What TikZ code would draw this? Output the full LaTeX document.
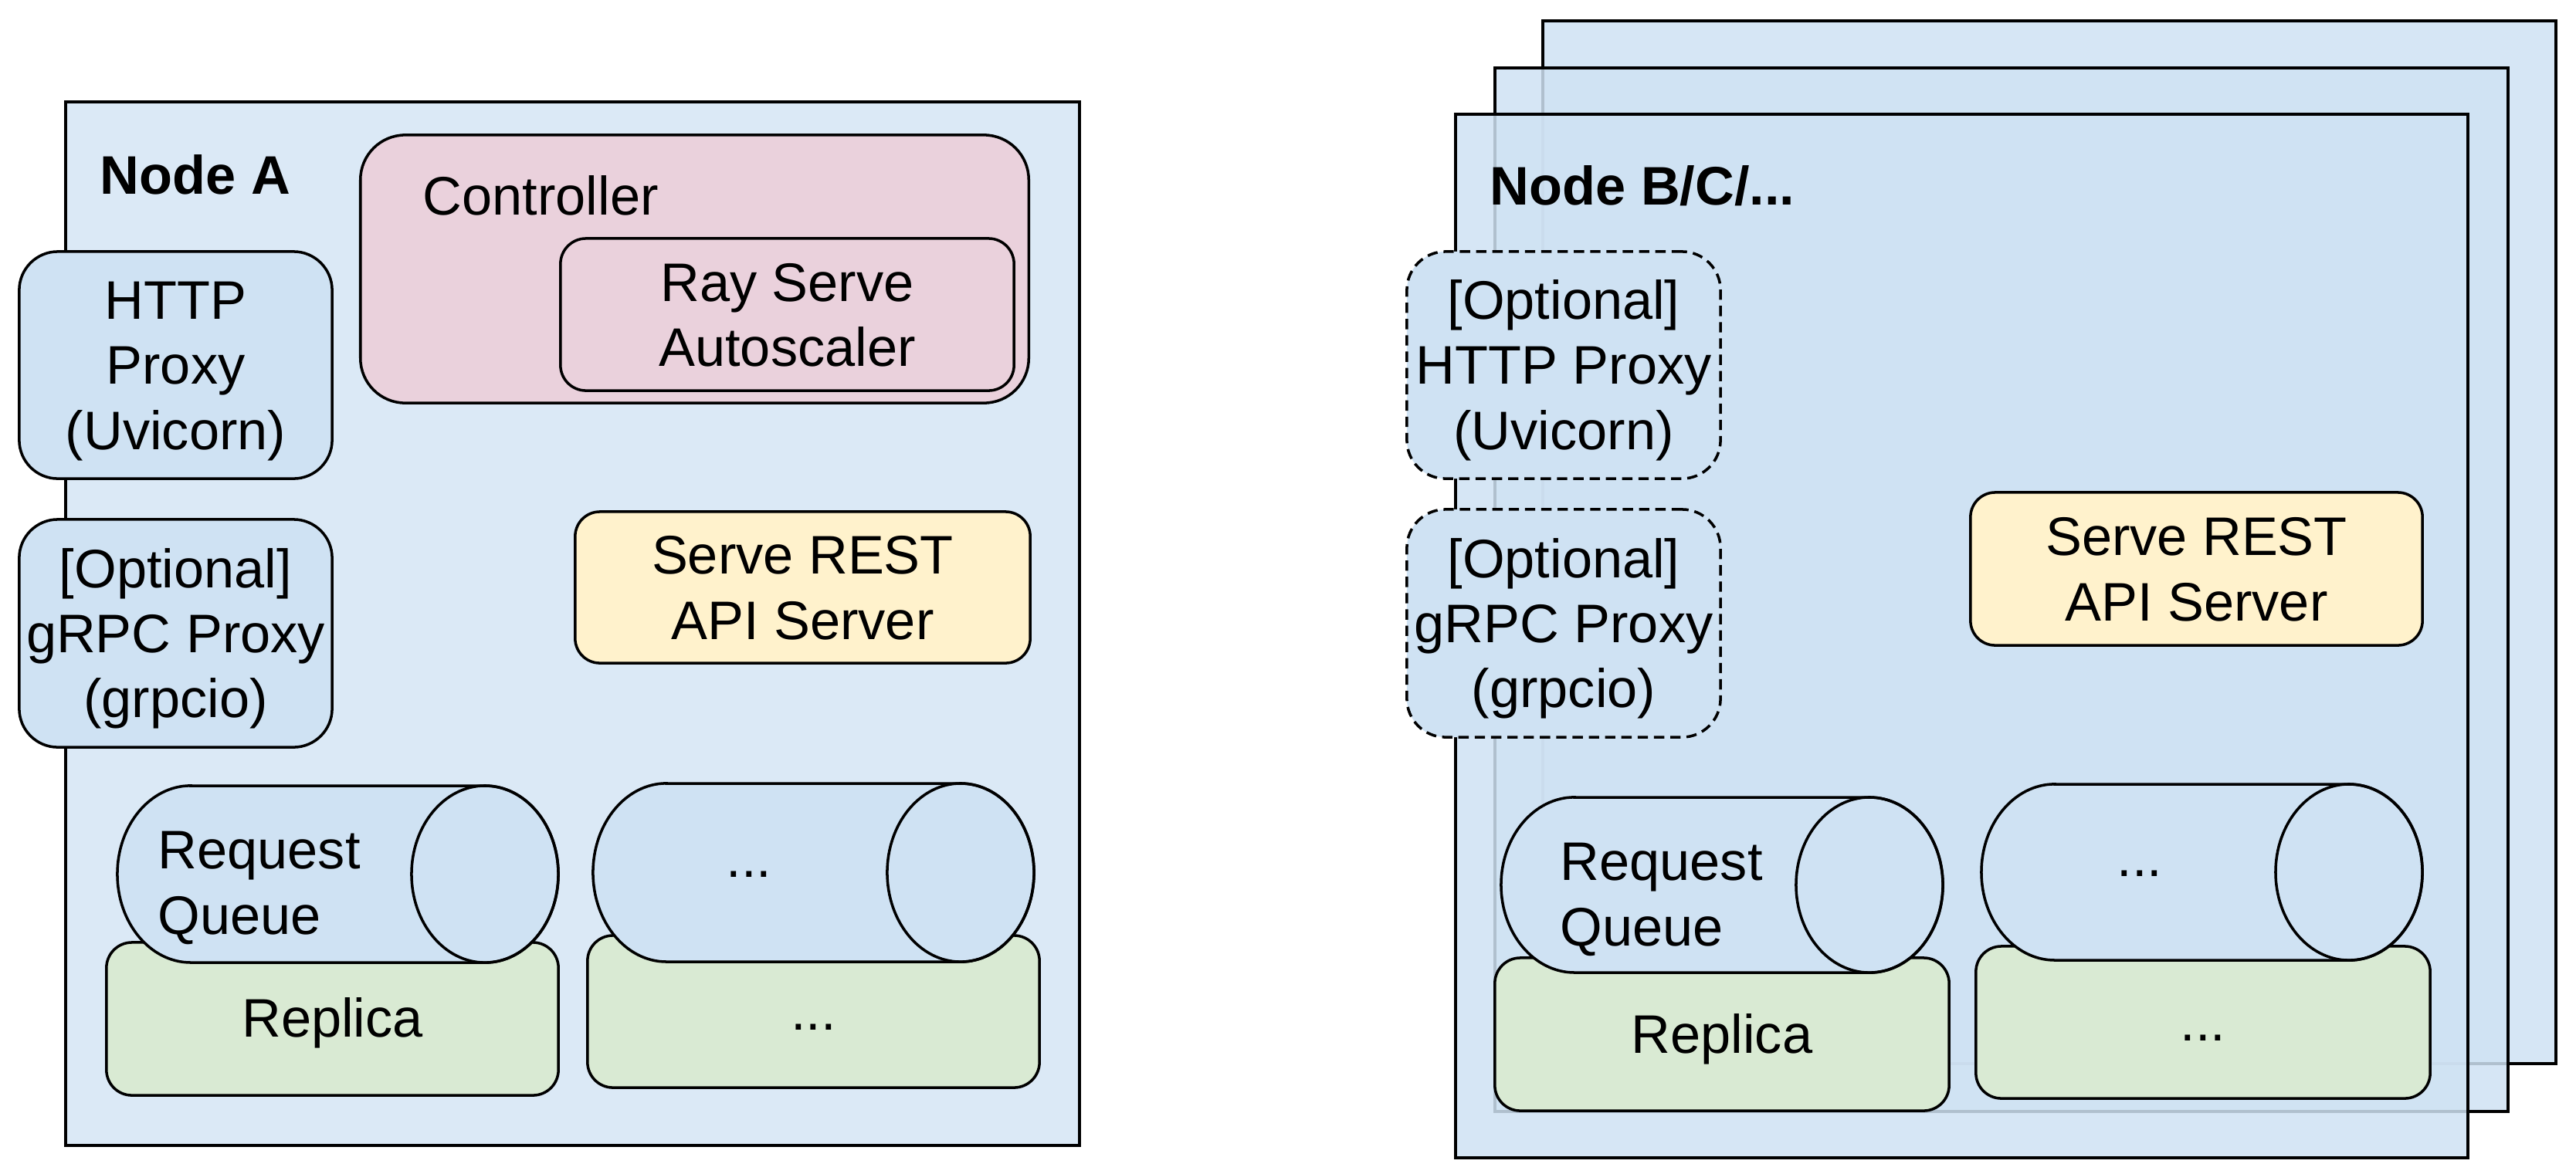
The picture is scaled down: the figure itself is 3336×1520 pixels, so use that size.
\documentclass[tikz,border=0pt]{standalone}
\usepackage{fontspec}
\setmainfont{Liberation Sans}
\definecolor{pblue}{HTML}{CFE2F3}
\definecolor{ppink}{HTML}{EAD1DC}
\definecolor{pyellow}{HTML}{FFF2CC}
\definecolor{pgreen}{HTML}{D9EAD3}
\newcommand{\dfont}{\fontsize{20}{24}\selectfont}
\newcommand{\qcyl}[5]{%
  \path[cylbody] ({#1+95},#2) -- ({#3-95},#2)
    arc[start angle=90, end angle=-90, x radius=0.95cm, y radius=#5cm]
    -- ({#1+95},#4)
    arc[start angle=270, end angle=90, x radius=0.95cm, y radius=#5cm] -- cycle;
  \draw[cylline] ({#3-95},{(#2+#4)/2}) ellipse[x radius=0.95cm, y radius=#5cm];
}
\tikzset{
  hostbox/.style={draw=black, line width=1.15pt, fill=pblue, inner sep=0pt, outer sep=0pt},
  part/.style={draw=black, line width=1pt, inner sep=0pt, outer sep=0pt},
  proxy/.style={part, fill=pblue, rounded corners=0.5cm},
  optproxy/.style={proxy, dash pattern=on 3.8pt off 2.2pt},
  ctrl/.style={part, fill=ppink, rounded corners=0.58cm},
  auto/.style={part, fill=ppink, rounded corners=0.33cm},
  rest/.style={part, fill=pyellow, rounded corners=0.32cm},
  replica/.style={part, fill=pgreen, rounded corners=0.33cm},
  cylbody/.style={draw=black, line width=1pt, fill=pblue},
  cylline/.style={draw=black, line width=1pt},
  txt/.style={font=\dfont, align=center, inner sep=0pt},
  ltxt/.style={font=\dfont, align=left, inner sep=0pt, anchor=west},
  lbl/.style={font=\dfont, inner sep=0pt}
}
\begin{document}
\begin{tikzpicture}[x=0.01cm, y=-0.01cm]
\path[use as bounding box] (0,0) rectangle (3336,1520);

% ---------------- Node A ----------------
\node[hostbox, fill opacity=0.75, minimum width=13.13cm, minimum height=13.52cm] (nodeA) at (741.5,808) {};
\node[lbl, anchor=base west] (nodeAt) at (129,251) {\bfseries Node A};

\node[ctrl, minimum width=8.65cm, minimum height=3.47cm] (ctrl) at (899.5,348.5) {};
\node[lbl, anchor=base west] (ctrlt) at (547,278) {Controller};
\node[auto, minimum width=5.87cm, minimum height=1.97cm] (auto) at (1019.5,407.5) {};
\node[txt] (autot) at (1019.5,415.5) {\strut Ray Serve\\\strut Autoscaler};

\node[proxy, minimum width=4.05cm, minimum height=2.94cm] (http) at (227.5,473) {};
\node[txt] (httpt) at (227.5,481) {\strut HTTP\\\strut Proxy\\\strut (Uvicorn)};
\node[proxy, minimum width=4.05cm, minimum height=2.95cm] (grpc) at (227.5,820.5) {};
\node[txt] (grpct) at (227.5,828.5) {\strut [Optional]\\\strut gRPC Proxy\\\strut (grpcio)};

\node[rest, minimum width=5.89cm, minimum height=1.96cm] (restA) at (1039.5,761) {};
\node[txt] (restAt) at (1039.5,769) {\strut Serve REST\\\strut API Server};

\node[replica, minimum width=5.85cm, minimum height=1.98cm] (rep1) at (430.5,1320) {};
\node[lbl, anchor=base] (rep1t) at (430.5,1343) {Replica};
\node[replica, minimum width=5.85cm, minimum height=1.97cm] (rep2) at (1053.5,1310.5) {};
\node[lbl, anchor=base] (rep2t) at (1053.5,1334) {...};

\qcyl{152}{1018}{723}{1247}{1.145}
\node[ltxt] (q1t) at (204,1151) {\strut Request\\\strut Queue};
\qcyl{768}{1015}{1339}{1246}{1.155}
\node[lbl, anchor=base west] (q2t) at (940,1136) {...};

% ---------------- Node B/C/... ----------------
\node[hostbox, fill opacity=0.85, minimum width=13.12cm, minimum height=13.51cm] (nodeD) at (2654,702.5) {};
\node[hostbox, fill opacity=0.85, minimum width=13.12cm, minimum height=13.52cm] (nodeC) at (2592,764) {};
\node[hostbox, fill opacity=0.85, minimum width=13.11cm, minimum height=13.52cm] (nodeB) at (2540.5,824) {};
\node[lbl, anchor=base west] (nodeBt) at (1929,265) {\bfseries Node B/C/...};

\node[optproxy, minimum width=4.06cm, minimum height=2.94cm] (ohttp) at (2025,473) {};
\node[txt] (ohttpt) at (2025,481) {\strut [Optional]\\\strut HTTP Proxy\\\strut (Uvicorn)};
\node[optproxy, minimum width=4.06cm, minimum height=2.95cm] (ogrpc) at (2025,807.5) {};
\node[txt] (ogrpct) at (2025,815.5) {\strut [Optional]\\\strut gRPC Proxy\\\strut (grpcio)};

\node[rest, minimum width=5.85cm, minimum height=1.98cm] (restB) at (2844.5,737) {};
\node[txt] (restBt) at (2844.5,745) {\strut Serve REST\\\strut API Server};

\node[replica, minimum width=5.88cm, minimum height=1.98cm] (rep3) at (2230,1340) {};
\node[lbl, anchor=base] (rep3t) at (2230,1364) {Replica};
\node[replica, minimum width=5.88cm, minimum height=1.97cm] (rep4) at (2853,1324.5) {};
\node[lbl, anchor=base] (rep4t) at (2853,1348) {...};

\qcyl{1944}{1033}{2516}{1260}{1.135}
\node[ltxt] (q3t) at (2020,1166) {\strut Request\\\strut Queue};
\qcyl{2566}{1016}{3137}{1244}{1.14}
\node[lbl, anchor=base west] (q4t) at (2741,1135) {...};
\end{tikzpicture}
\end{document}
